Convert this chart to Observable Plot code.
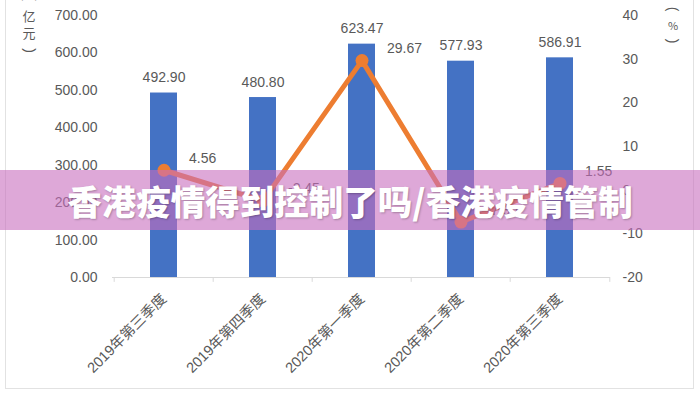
<!DOCTYPE html>
<html><head><meta charset="utf-8">
<script src="https://cdn.jsdelivr.net/npm/d3@7"></script>
<script src="https://cdn.jsdelivr.net/npm/@observablehq/plot@0.6"></script>
<style>
body{margin:0;background:#fff;}
#wrap{position:relative;width:700px;height:400px;overflow:hidden;background:#fff;}
#frame{position:absolute;left:5px;top:-4px;width:687px;height:391px;border:1.5px solid #e2e2e2;}
#chart{position:absolute;left:0;top:0;}
.unit{position:absolute;width:20px;text-align:center;font:13px "Noto Sans CJK SC",sans-serif;color:#595959;line-height:17px;}
.unit span{display:inline-block;transform:rotate(90deg);font-family:"Liberation Sans",sans-serif;font-size:14px;}
#banner{position:absolute;left:0;top:170px;width:700px;height:60px;background:rgba(200,110,190,0.6);color:#fff;font:900 34.5px "Noto Sans CJK SC",sans-serif;text-align:center;line-height:60px;text-shadow:1px 1px 2px rgba(0,0,0,.25);}
</style></head>
<body>
<div id="wrap">
  <div id="frame"></div>
  <div id="chart"></div>
  <div class="unit" style="left:19px;top:-11px;"><span>(</span><br>亿<br>元<br><span>)</span></div>
  <div class="unit" style="left:663px;top:1px;font-size:11px;line-height:16px;"><span>(</span><br>%<br><span>)</span></div>
  <div id="banner">香港疫情得到控制了吗/香港疫情管制</div>
</div>
<script>
const quarters = ["2019年第三季度", "2019年第四季度", "2020年第一季度", "2020年第二季度", "2020年第三季度"];
const revenue = [492.90, 480.80, 623.47, 577.93, 586.91];
const growth = [4.56, -2.45, 29.67, -7.30, 1.55];
const leftTicks = [0, 100, 200, 300, 400, 500, 600, 700];
const rightTicks = [-20, -10, 0, 10, 20, 30, 40];

const rows = quarters.map((q, i) => ({q, v: revenue[i], g: growth[i]}));
const LMAX = 700, RMIN = -20, RMAX = 40;
const toLeft = p => (p - RMIN) * LMAX / (RMAX - RMIN);
const fromLeft = v => v * (RMAX - RMIN) / LMAX + RMIN;
const font = '"Liberation Sans","Noto Sans CJK SC",sans-serif';
const grey = "#595959";

const chart = Plot.plot({
  width: 700, height: 400,
  marginLeft: 112, marginRight: 90, marginTop: 15, marginBottom: 123,
  style: {fontFamily: font, fontSize: "14px", color: grey, background: "transparent", overflow: "visible"},
  x: {domain: quarters, paddingInner: 0.73, paddingOuter: 0.365, label: null},
  y: {domain: [0, LMAX], label: null},
  marks: [
    Plot.axisY(leftTicks, {tickFormat: d => d.toFixed(2), tickSize: 0, tickPadding: 15, label: null, fill: grey}),
    Plot.axisY(rightTicks.map(toLeft), {anchor: "right", tickFormat: v => String(Math.round(fromLeft(v))), tickSize: 0, tickPadding: 12, label: null, fill: grey}),
    Plot.axisX({tickRotate: -45, tickSize: 0, tickPadding: 19, label: null, fill: grey, fontSize: 14.5}),
    Plot.barY(rows, {x: "q", y: "v", fill: "#4472C4"}),
    Plot.ruleY([0], {stroke: "#d9d9d9", strokeWidth: 1.2}),
    Plot.ruleX(quarters, {x: d => d, y1: 0, y2: -13, dx: -49.8, stroke: "#d9d9d9"}),
    Plot.ruleX(quarters.slice(-1), {x: d => d, y1: 0, y2: -13, dx: 49.8, stroke: "#d9d9d9"}),
    Plot.text(rows, {x: "q", y: "v", text: d => d.v.toFixed(2), dy: -11, lineAnchor: "bottom", fill: grey, fontSize: 14}),
    Plot.line(rows, {x: "q", y: d => toLeft(d.g), stroke: "#ED7D31", strokeWidth: 5, strokeLinejoin: "round", strokeLinecap: "round"}),
    Plot.dot(rows, {x: "q", y: d => toLeft(d.g), r: 6.5, fill: "#ED7D31"}),
    Plot.text(rows, {x: "q", y: d => toLeft(d.g), text: d => d.g.toFixed(2), dx: 25, dy: -12, textAnchor: "start", fill: grey, fontSize: 14})
  ]
});
document.getElementById("chart").appendChild(chart);
</script>
</body></html>
